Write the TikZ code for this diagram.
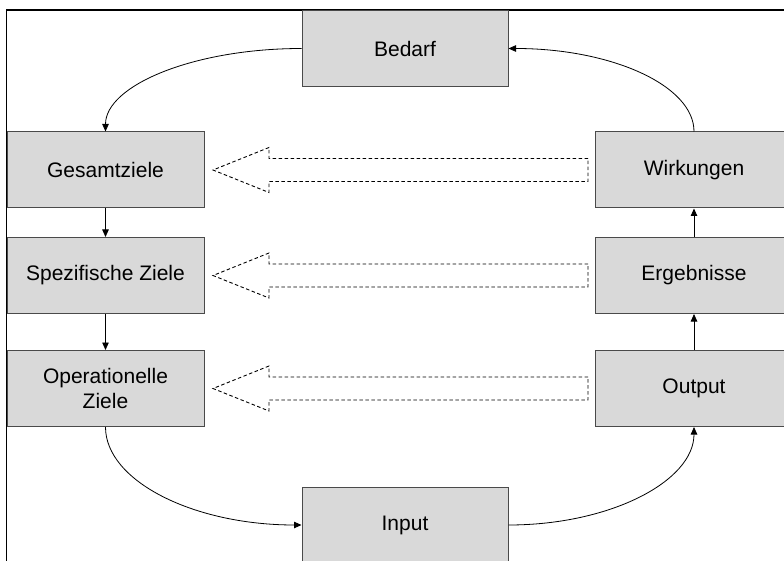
\documentclass[tikz,border=0pt]{standalone}
\usepackage{fontspec}
\setmainfont{Liberation Sans}
\usetikzlibrary{arrows.meta}
\definecolor{boxfill}{HTML}{D9D9D9}
\definecolor{boxline}{HTML}{4A4A4A}
\begin{document}
\begin{tikzpicture}[x=1pt, y=-1pt,
  stage/.style={draw=boxline, fill=boxfill, line width=1pt, rectangle,
    inner sep=0pt, minimum width=197pt, minimum height=76pt,
    align=center, font=\fontsize{21}{25.5}\selectfont},
  wide/.style={stage, minimum width=206pt},
  flow/.style={draw=black, line width=0.8pt,
    -{Triangle[length=7.5pt, width=6.5pt]}},
  feedback/.style={draw=black, line width=0.9pt, dash pattern=on 3.5pt off 2.5pt}]
  \useasboundingbox (0,0) rectangle (784,561);
  \fill[white] (0,0) rectangle (784,561);

  % outer frame (top and left edges)
  \draw[line width=1.5pt] (6.5,561) -- (6.5,10) -- (784,10);

  % planning side
  \node[stage] (gesamt) at (105.5,170) {Gesamtziele};
  \node[stage] (spez) at (105.5,275.5) {Spezifische Ziele};
  \node[stage] (oper) at (105.5,388.5) {Operationelle\\Ziele};

  % result side
  \node[stage] (wirk) at (694,170) {Wirkungen};
  \node[stage] (erg) at (694,275.5) {Ergebnisse};
  \node[stage] (out) at (694,388.5) {Output};

  % top and bottom
  \node[wide] (bedarf) at (405,48.5) {Bedarf};
  \node[wide] (input) at (405,525) {Input};

  % vertical links
  \draw[flow] (gesamt) -- (spez);
  \draw[flow] (spez) -- (oper);
  \draw[flow] (out) -- (erg);
  \draw[flow] (erg) -- (wirk);

  % curved cycle links
  \draw[flow] (bedarf.west) .. controls +(-108,0) and +(0,-46) .. (gesamt.north);
  \draw[flow] (oper.south) .. controls +(0,54) and +(-108,0) .. (input.west);
  \draw[flow] (input.east) .. controls +(102,0) and +(0,54) .. (out.south);
  \draw[flow] (wirk.north) .. controls +(0,-46) and +(103,0) .. (bedarf.east);

  % dashed feedback arrows
  \foreach \y in {170,275.5,388.5} {
    \draw[feedback] (588,\y-11.5) -- (269,\y-11.5) -- (269,\y-22.5)
      -- (213,\y) -- (269,\y+22.5) -- (269,\y+11.5) -- (588,\y+11.5) -- cycle;
  }
\end{tikzpicture}
\end{document}
